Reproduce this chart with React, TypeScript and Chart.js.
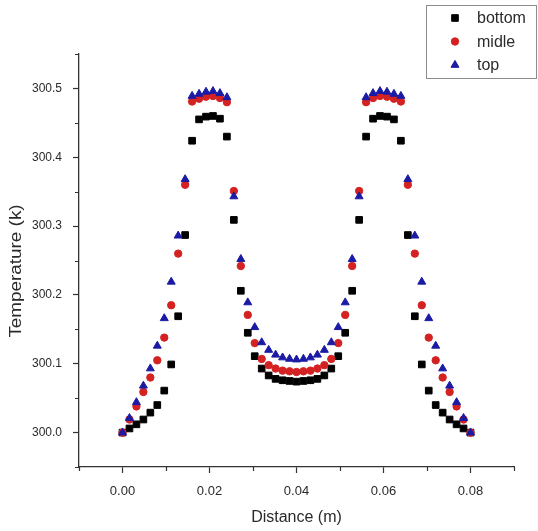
import React, { useEffect, useRef } from 'react';
import { Chart, registerables } from 'chart.js';
import { drawPoint } from 'chart.js/helpers';

Chart.register(...registerables);

// ---------- data ----------
const xValues = [
  0, 0.0016, 0.0032, 0.0048, 0.0064, 0.008, 0.0096, 0.0112, 0.0128, 0.0144,
  0.016, 0.0176, 0.0192, 0.0208, 0.0224, 0.024, 0.0256, 0.0272, 0.0288, 0.0304,
  0.032, 0.0336, 0.0352, 0.0368, 0.0384, 0.04, 0.0416, 0.0432, 0.0448, 0.0464,
  0.048, 0.0496, 0.0512, 0.0528, 0.0544, 0.056, 0.0576, 0.0592, 0.0608, 0.0624,
  0.064, 0.0656, 0.0672, 0.0688, 0.0704, 0.072, 0.0736, 0.0752, 0.0768, 0.0784,
  0.08,
];

const bottomValues = [
  300.000, 300.006, 300.012, 300.019, 300.029, 300.040, 300.061, 300.099, 300.169, 300.287,
  300.424, 300.455, 300.459, 300.460, 300.456, 300.430, 300.309, 300.206, 300.145, 300.111,
  300.093, 300.083, 300.078, 300.076, 300.075, 300.074, 300.075, 300.076, 300.078, 300.083,
  300.093, 300.111, 300.145, 300.206, 300.309, 300.430, 300.456, 300.460, 300.459, 300.455,
  300.424, 300.287, 300.169, 300.099, 300.061, 300.040, 300.029, 300.019, 300.012, 300.006,
  300.000,
];

const midleValues = [
  300.000, 300.019, 300.038, 300.059, 300.080, 300.105, 300.138, 300.185, 300.260, 300.360,
  300.481, 300.485, 300.488, 300.489, 300.486, 300.480, 300.351, 300.242, 300.171, 300.130,
  300.107, 300.098, 300.093, 300.090, 300.089, 300.088, 300.089, 300.090, 300.093, 300.098,
  300.107, 300.130, 300.171, 300.242, 300.351, 300.480, 300.486, 300.489, 300.488, 300.485,
  300.481, 300.360, 300.260, 300.185, 300.138, 300.105, 300.080, 300.059, 300.038, 300.019,
  300.000,
];

const topValues = [
  300.000, 300.021, 300.044, 300.068, 300.093, 300.126, 300.166, 300.219, 300.286, 300.368,
  300.489, 300.492, 300.495, 300.496, 300.493, 300.487, 300.343, 300.252, 300.189, 300.153,
  300.131, 300.120, 300.113, 300.109, 300.107, 300.106, 300.107, 300.109, 300.113, 300.120,
  300.131, 300.153, 300.189, 300.252, 300.343, 300.487, 300.493, 300.496, 300.495, 300.492,
  300.489, 300.368, 300.286, 300.219, 300.166, 300.126, 300.093, 300.068, 300.044, 300.021,
  300.000,
];

const seriesNames = ['bottom', 'midle', 'top'];

const xMajorTicks = [0, 0.02, 0.04, 0.06, 0.08];
const xMinorTicks = [-0.01, 0.01, 0.03, 0.05, 0.07, 0.09];
const yMajorTicks = [300.0, 300.1, 300.2, 300.3, 300.4, 300.5];
const yMinorTicks = [299.95, 300.05, 300.15, 300.25, 300.35, 300.45, 300.55];

const xTitle = 'Distance (m)';
const yTitle = 'Temperature (k)';

// ---------- styles ----------
const FONT = '"Liberation Sans", Arial, sans-serif';
const AXIS = '#333333';
const TEXT = '#2a2a2a';
const BLACK = '#000000';
const RED = '#d42222';
const BLUE = '#1a1aa4';

const styles = [
  { color: BLACK, pointStyle: 'rect', radius: 4.7, order: 2 },
  { color: RED, pointStyle: 'circle', radius: 3.7, order: 1 },
  { color: BLUE, pointStyle: 'triangle', radius: 4.6, order: 0 },
];

const decorPlugin = {
  id: 'decor',
  afterDraw(chart: any) {
    const ctx = chart.ctx as CanvasRenderingContext2D;
    const xs = chart.scales.x;
    const ys = chart.scales.y;
    const area = chart.chartArea;
    ctx.save();
    // minor ticks
    ctx.strokeStyle = AXIS;
    ctx.lineWidth = 1.2;
    ctx.beginPath();
    xMinorTicks.forEach((v) => {
      const px = Math.round(xs.getPixelForValue(v)) + 0.5;
      ctx.moveTo(px, area.bottom);
      ctx.lineTo(px, area.bottom + 4);
    });
    yMinorTicks.forEach((v) => {
      const py = Math.round(ys.getPixelForValue(v)) + 0.5;
      ctx.moveTo(area.left, py);
      ctx.lineTo(area.left - 4, py);
    });
    ctx.stroke();

    // y title
    ctx.save();
    ctx.translate(17, 271);
    ctx.rotate(-Math.PI / 2);
    ctx.scale(1.18, 1);
    ctx.font = `16px ${FONT}`;
    ctx.fillStyle = TEXT;
    ctx.textAlign = 'center';
    ctx.textBaseline = 'middle';
    ctx.fillText(yTitle, 0, 0);
    ctx.restore();

    // legend
    ctx.strokeStyle = '#8c8c8c';
    ctx.lineWidth = 1;
    ctx.strokeRect(426.5, 5.5, 110, 73);
    ctx.font = `16px ${FONT}`;
    ctx.textAlign = 'left';
    ctx.textBaseline = 'middle';
    seriesNames.forEach((name, k) => {
      const st = styles[k];
      const y = 18 + k * 23.5;
      ctx.fillStyle = st.color;
      ctx.strokeStyle = st.color;
      ctx.lineWidth = 1;
      drawPoint(ctx, { pointStyle: st.pointStyle as any, radius: st.radius, rotation: 0, borderWidth: 1 }, 455, y);
      ctx.fillStyle = TEXT;
      ctx.fillText(name, 477, y + 1);
    });
    ctx.restore();
  },
};

export default function App() {
  const ref = useRef<HTMLCanvasElement>(null);
  useEffect(() => {
    const canvas = ref.current;
    if (!canvas) return;
    const seriesValues = [bottomValues, midleValues, topValues];
    const chart = new Chart(canvas, {
      type: 'scatter',
      data: {
        datasets: seriesNames.map((name, k) => ({
          label: name,
          data: xValues.map((x, i) => ({ x, y: seriesValues[k][i] })),
          showLine: false,
          pointStyle: styles[k].pointStyle as any,
          pointRadius: styles[k].radius,
          pointBackgroundColor: styles[k].color,
          pointBorderColor: styles[k].color,
          pointBorderWidth: 1,
          backgroundColor: styles[k].color,
          borderColor: styles[k].color,
          order: styles[k].order,
        })),
      },
      options: {
        animation: false,
        responsive: false,
        events: [],
        layout: { padding: { top: 54, right: 24, left: 0, bottom: 0 } },
        plugins: {
          legend: { display: false },
          tooltip: { enabled: false },
        },
        scales: {
          x: {
            type: 'linear',
            min: -0.01,
            max: 0.09,
            afterBuildTicks: (s: any) => {
              s.ticks = xMajorTicks.map((v) => ({ value: v }));
            },
            afterFit: (s: any) => {
              s.height = 64;
            },
            grid: {
              display: true,
              drawOnChartArea: false,
              drawTicks: true,
              tickLength: 6,
              tickColor: AXIS,
              tickWidth: 1.2,
            },
            border: { display: true, color: AXIS, width: 1.3 },
            ticks: {
              font: { size: 13, family: FONT },
              color: TEXT,
              padding: 11,
              maxRotation: 0,
              autoSkip: false,
              callback: (v: any) => Number(v).toFixed(2),
            },
            title: {
              display: true,
              text: xTitle,
              font: { size: 16, family: FONT },
              color: TEXT,
              padding: { top: 4, bottom: 4 },
            },
          },
          y: {
            type: 'linear',
            min: 299.95,
            max: 300.55,
            afterBuildTicks: (s: any) => {
              s.ticks = yMajorTicks.map((v) => ({ value: v }));
            },
            afterFit: (s: any) => {
              s.width = 79;
            },
            grid: {
              display: true,
              drawOnChartArea: false,
              drawTicks: true,
              tickLength: 6,
              tickColor: AXIS,
              tickWidth: 1.2,
            },
            border: { display: true, color: AXIS, width: 1.3 },
            ticks: {
              font: { size: 12, family: FONT },
              color: TEXT,
              padding: 11,
              autoSkip: false,
              callback: (v: any) => Number(v).toFixed(1),
            },
            title: { display: false },
          },
        },
      },
      plugins: [decorPlugin],
    });
    return () => chart.destroy();
  }, []);

  return (
    <div style={{ position: 'absolute', left: 0, top: 0, width: 538, height: 531, background: '#ffffff' }}>
      <canvas ref={ref} width={538} height={531} style={{ display: 'block', width: 538, height: 531 }} />
    </div>
  );
}
